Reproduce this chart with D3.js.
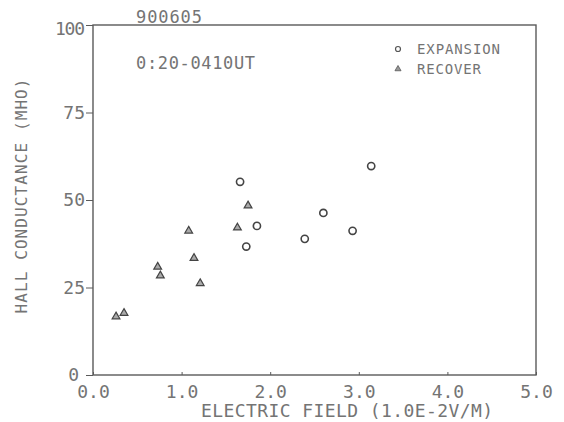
<!DOCTYPE html>
<html>
<head>
<meta charset="utf-8">
<script src="https://cdn.jsdelivr.net/npm/d3@7"></script>
<style>
  body { margin: 0; background: #fff; }
  svg text { font-family: "DejaVu Sans Mono", monospace; fill: #747474; }
</style>
</head>
<body>
<svg id="chart" width="564" height="422"></svg>
<script>
// values
var expansionX = [1.66, 1.85, 1.73, 2.39, 2.60, 2.93, 3.14];
var expansionY = [55.2, 42.6, 36.7, 38.9, 46.3, 41.2, 59.7];
var recoverX = [0.26, 0.35, 0.73, 0.76, 1.08, 1.14, 1.21, 1.63, 1.75];
var recoverY = [16.7, 17.7, 30.9, 28.4, 41.2, 33.4, 26.2, 42.1, 48.4];
var xTicks = [0, 1, 2, 3, 4, 5];
var yTicks = [0, 25, 50, 75, 100];
var seriesNames = ["EXPANSION", "RECOVER"];

var svg = d3.select("svg#chart");
var pLeft = 93, pRight = 536, pTop = 25, pBottom = 375;
var ink = "#5a5a5a";

var x = d3.scaleLinear().domain([0, 5]).range([pLeft, pRight]);
var y = d3.scaleLinear().domain([0, 100]).range([pBottom, pTop]);

// frame
svg.append("rect")
  .attr("x", pLeft).attr("y", pTop)
  .attr("width", pRight - pLeft).attr("height", pBottom - pTop)
  .attr("fill", "none").attr("stroke", ink).attr("stroke-width", 1.4);

// x axis
var xAxis = svg.append("g")
  .attr("transform", "translate(0," + pBottom + ")")
  .call(d3.axisBottom(x).tickValues(xTicks).tickSize(-3).tickFormat(d3.format(".1f")));
xAxis.select(".domain").remove();
xAxis.selectAll("line").attr("stroke", ink);
xAxis.selectAll("text")
  .attr("y", 23).attr("dy", null)
  .style("font-size", "18px").attr("fill", "#747474");

// y axis
var yAxis = svg.append("g")
  .attr("transform", "translate(" + pLeft + ",0)")
  .call(d3.axisLeft(y).tickValues(yTicks).tickSize(7).tickPadding(1));
yAxis.select(".domain").remove();
yAxis.selectAll("line").attr("stroke", ink);
yAxis.selectAll("text")
  .style("font-size", "18px").attr("fill", "#747474");
yAxis.selectAll(".tick").filter(d => d === 0).select("text").attr("x", -14).attr("dy", "0.3em");
yAxis.selectAll(".tick").filter(d => d === 100).select("text").attr("dy", "0.55em").attr("textLength", 30);

// titles
svg.append("text").attr("x", 136).attr("y", 23)
  .style("font-size", "17px").attr("textLength", 66).text("900605");
svg.append("text").attr("x", 136).attr("y", 69)
  .style("font-size", "17px").attr("textLength", 119).text("0:20-0410UT");

svg.append("text").attr("x", 347).attr("y", 417)
  .attr("text-anchor", "middle")
  .style("font-size", "18px").attr("textLength", 292)
  .text("ELECTRIC FIELD (1.0E-2V/M)");

svg.append("text")
  .attr("transform", "translate(27,196) rotate(-90)")
  .attr("text-anchor", "middle")
  .style("font-size", "16px").attr("textLength", 235)
  .text("HALL CONDUCTANCE (MHO)");

// markers
var tri = d3.symbol().type(d3.symbolTriangle);

svg.append("g").selectAll("circle")
  .data(expansionX.map((v, i) => ({x: v, y: expansionY[i]})))
  .enter().append("circle")
  .attr("cx", d => x(d.x)).attr("cy", d => y(d.y))
  .attr("r", 3.6)
  .attr("fill", "none").attr("stroke", "#444").attr("stroke-width", 1.6);

svg.append("g").selectAll("path")
  .data(recoverX.map((v, i) => ({x: v, y: recoverY[i]})))
  .enter().append("path")
  .attr("d", tri.size(26))
  .attr("transform", d => "translate(" + x(d.x) + "," + y(d.y) + ")")
  .attr("fill", "#aaa").attr("stroke", "#444").attr("stroke-width", 1.2);

// legend
var legend = svg.append("g");
legend.append("circle").attr("cx", 398).attr("cy", 49).attr("r", 2.5)
  .attr("fill", "none").attr("stroke", "#555").attr("stroke-width", 1.2);
legend.append("path").attr("d", d3.symbol().type(d3.symbolTriangle).size(16)())
  .attr("transform", "translate(398,69)")
  .attr("fill", "#999").attr("stroke", "#555").attr("stroke-width", 0.8);
legend.selectAll("text.lab")
  .data(seriesNames)
  .enter().append("text")
  .attr("class", "lab")
  .attr("x", 417).attr("y", (d, i) => 54 + i * 20)
  .style("font-size", "14px")
  .attr("textLength", (d, i) => i === 0 ? 83 : 64)
  .text(d => d);
</script>
</body>
</html>
